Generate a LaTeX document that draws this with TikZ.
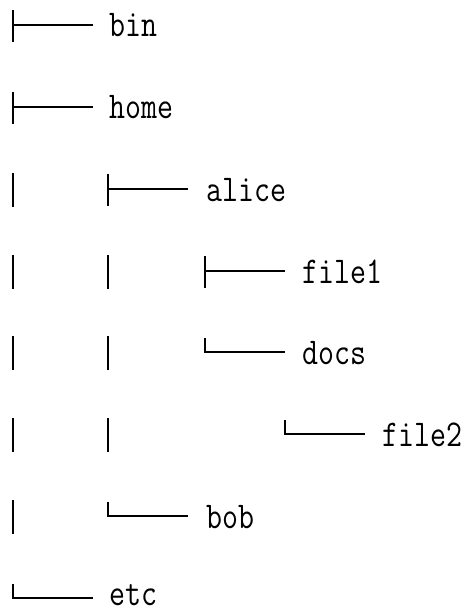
\documentclass[tikz,border=0pt]{standalone}
\usepackage{graphicx}
\begin{document}
\begin{tikzpicture}[x=1pt,y=-1pt,
  tree/.style={line width=2.1pt, line cap=butt, black},
  lbl/.style={font=\ttfamily\fontsize{31}{31}\selectfont, anchor=base west, inner sep=0pt}]
\useasboundingbox (0,0) rectangle (465,612);
\newcommand\tall[1]{\scalebox{1}[1.22]{#1}}
% rows: y of horizontal strokes
\def\rA{25}\def\rB{107}\def\rC{189}\def\rD{271}\def\rE{352}\def\rF{434}\def\rG{516}\def\rH{598}
% labels
\node[lbl] (bin)   at (109,\rA+12) {\tall{bin}};
\node[lbl] (home)  at (109,\rB+12) {\tall{home}};
\node[lbl] (alice) at (206,\rC+12) {\tall{alice}};
\node[lbl] (file1) at (302,\rD+12) {\tall{file1}};
\node[lbl] (docs)  at (302,\rE+12) {\tall{docs}};
\node[lbl] (file2) at (382,\rF+12) {\tall{file2}};
\node[lbl] (bob)   at (206,\rG+12) {\tall{bob}};
\node[lbl] (etc)   at (109,\rH+7) {\tall{etc}};
% tee branches
\foreach \x/\y in {13/\rA, 13/\rB, 108/\rC, 205/\rD}{
  \draw[tree] (\x,\y-15) -- (\x,\y+17);
  \draw[tree] (\x,\y) -- ++(80,0);
}
% ell branches
\foreach \x/\y in {205/\rE, 285/\rF, 108/\rG, 13/\rH}{
  \draw[tree] (\x,\y-14) -- (\x,\y) -- ++(80,0);
}
% pipes
\foreach \x/\y in {13/\rC, 13/\rD, 13/\rE, 13/\rF, 13/\rG, 108/\rD, 108/\rE, 108/\rF}{
  \draw[tree] (\x,\y-16) -- (\x,\y+18);
}
\end{tikzpicture}
\end{document}
